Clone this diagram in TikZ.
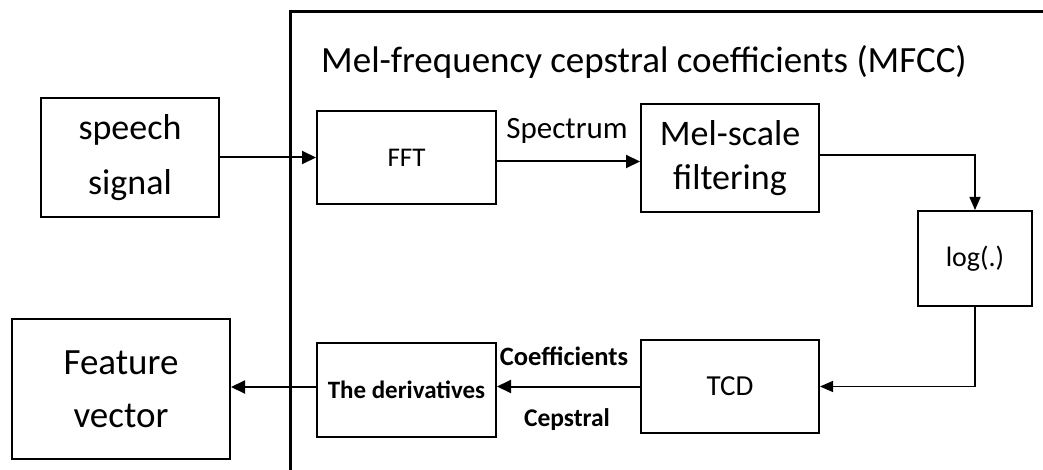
\documentclass[tikz,border=0pt]{standalone}
\usepackage{fontspec}
\setmainfont{Carlito}
\usetikzlibrary{arrows.meta}
\begin{document}
\begin{tikzpicture}[x=1pt,y=1pt,
  box/.style={draw,line width=2pt,inner sep=0pt,align=center},
  arr/.style={line width=2pt,-{Triangle[length=14pt,width=13pt]}},
  thinarr/.style={line width=1.3pt,-{Triangle[length=13pt,width=11pt]}},
  lbl/.style={inner sep=0pt}]
\useasboundingbox (0,0) rectangle (1043,-470);
\draw[line width=3pt] (290,-475) -- (290,-12) -- (1048,-12);
\node[lbl,font=\fontsize{37}{44}\selectfont,anchor=west] (title) at (321,-62) {Mel-frequency cepstral coefficients (MFCC)};
\node[box,minimum width=178pt,minimum height=119pt,font=\fontsize{36}{55}\selectfont] (sp) at (130,-157.5) {speech\\signal};
\node[box,minimum width=179pt,minimum height=93pt,font=\fontsize{27}{30}\selectfont] (fft) at (406.5,-157.5) {FFT};
\node[box,minimum width=178pt,minimum height=108pt,font=\fontsize{36}{44}\selectfont] (mel) at (730,-158) {Mel-scale\\filtering};
\node[box,minimum width=114pt,minimum height=95pt,font=\fontsize{28}{34}\selectfont] (log) at (975,-258.5) {log(.)};
\node[box,minimum width=178pt,minimum height=93pt,font=\fontsize{29}{34}\selectfont] (tcd) at (730,-386.5) {TCD};
\node[box,minimum width=179pt,minimum height=94pt,font=\bfseries\fontsize{25}{30}\selectfont] (der) at (406.5,-390) {The derivatives};
\node[box,minimum width=218pt,minimum height=140pt,font=\fontsize{37}{53}\selectfont] (fv) at (121,-389) {Feature\\vector};
\node[lbl,font=\fontsize{31}{36}\selectfont] (spec) at (567,-131) {Spectrum};
\node[lbl,font=\bfseries\fontsize{26.5}{30}\selectfont] (coef) at (564,-356) {Coefficients};
\node[lbl,font=\bfseries\fontsize{25.5}{30}\selectfont] (cep) at (567,-420) {Cepstral};
\draw[arr] (sp.east) -- (fft.west);
\draw[arr] ([yshift=-4pt]fft.east) -- ([yshift=-4pt]fft.east -| mel.west);
\draw[thinarr] ([yshift=3pt]mel.east) -| (log.north);
\draw[thinarr] (log.south) |- (tcd.east);
\draw[arr] (tcd.west) -- (tcd.west -| der.east);
\draw[arr] ([yshift=3pt]der.west) -- ([yshift=3pt]der.west -| fv.east);
\end{tikzpicture}
\end{document}
